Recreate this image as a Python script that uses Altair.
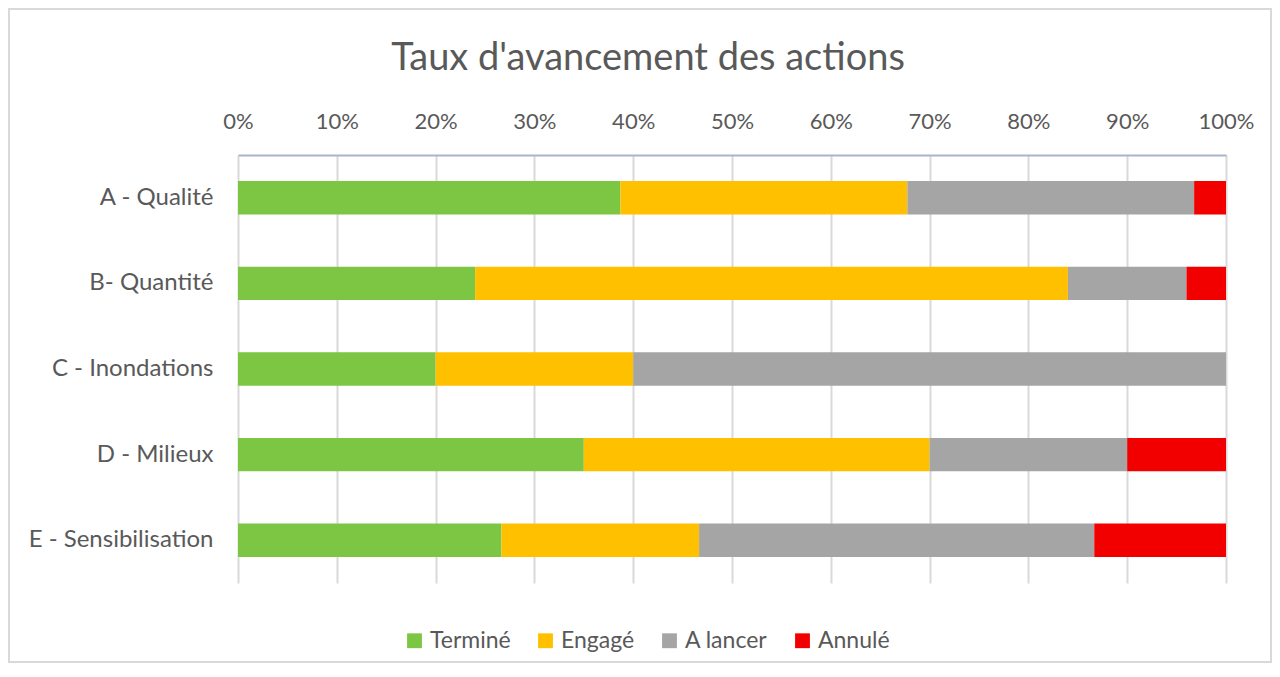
import altair as alt
import pandas as pd

categories = ["A - Qualité", "B- Quantité", "C - Inondations", "D - Milieux", "E - Sensibilisation"]
statuses = ["Terminé", "Engagé", "A lancer", "Annulé"]
colors = ["#7DC643", "#FFC000", "#A5A5A5", "#F20000"]
termine = [12, 6, 1, 7, 4]
engage = [9, 15, 1, 7, 3]
a_lancer = [9, 3, 3, 4, 6]
annule = [1, 1, 0, 2, 2]

rows = []
for i, c in enumerate(categories):
    for j, (s, vals) in enumerate(zip(statuses, [termine, engage, a_lancer, annule])):
        rows.append({"cat": c, "statut": s, "ordre": j, "n": vals[i]})
df = pd.DataFrame(rows)

FONT = "Lato"
W, H = 988, 428
PL, PT, PR, PB = 230, 147, 46, 80

bars = alt.Chart(df).mark_bar().encode(
    y=alt.Y("cat:N", sort=categories, title=None,
            scale=alt.Scale(paddingInner=0.61, paddingOuter=0.305),
            axis=alt.Axis(domain=False, ticks=False, labelPadding=25, labelFontSize=24,
                          labelLimit=400, labelColor="#595959", labelFont=FONT, grid=False)),
    x=alt.X("n:Q", stack="normalize", title=None,
            scale=alt.Scale(domain=[0, 1], nice=False),
            axis=alt.Axis(orient="top", format=".0%", values=[i / 10 for i in range(11)],
                          ticks=False, labelPadding=22, labelFontSize=22, labelColor="#595959",
                          labelFont=FONT, domainColor="#A9B6C8", domainWidth=2,
                          gridColor="#D9D9D9", gridWidth=2, labelFlush=False)),
    color=alt.Color("statut:N", sort=statuses,
                    scale=alt.Scale(domain=statuses, range=colors),
                    legend=alt.Legend(title=None, orient="none", direction="horizontal",
                                      legendX=165, legendY=474, symbolType="square",
                                      symbolSize=220, symbolStrokeWidth=0, labelFontSize=23,
                                      labelColor="#595959", labelFont=FONT, columnPadding=23,
                                      labelOffset=4)),
    order=alt.Order("ordre:Q"),
)

frame = alt.Chart(pd.DataFrame({"f": [0]})).mark_rect(
    fill="transparent", stroke="#D9D9D9", strokeWidth=2
).encode(
    x=alt.value(-PL + 1), x2=alt.value(W + PR - 1),
    y=alt.value(-PT + 1), y2=alt.value(H + PB - 1),
)

chart = alt.layer(frame, bars).properties(
    width=W, height=H,
    padding={"left": PL, "top": PT, "right": PR, "bottom": PB},
    autosize=alt.AutoSizeParams(type="none"),
    title=alt.TitleParams("Taux d'avancement des actions", fontSize=38, font=FONT,
                          fontWeight="normal", color="#595959", anchor="middle",
                          dx=-84, offset=-70),
).configure_view(stroke=None)

chart.save("out.html", embed_options={"renderer": "svg", "actions": False})
